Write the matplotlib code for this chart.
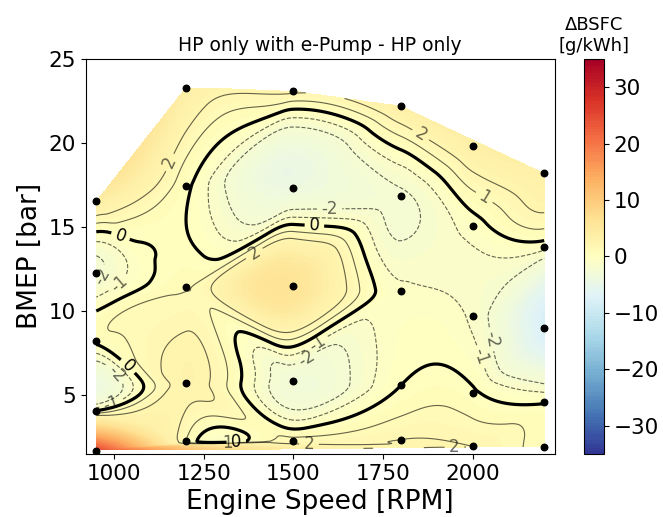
import numpy as np
import matplotlib.pyplot as plt
import matplotlib.tri as mtri

# measured operating points (engine speed, BMEP) and delta BSFC
speed = np.array([950] * 5 + [1200] * 5 + [1500] * 5 + [1800] * 5 + [2000] * 5 + [2200] * 5, dtype=float)
bmep = np.array([1.72, 4.09, 8.25, 12.25, 16.55,
                 2.27, 5.74, 11.42, 17.45, 23.3,
                 2.27, 5.83, 11.5, 17.3, 23.1,
                 2.37, 5.59, 11.22, 16.88, 22.2,
                 1.97, 5.14, 9.73, 15.08, 19.83,
                 1.93, 4.59, 9.0, 13.85, 18.21])
dbsfc = np.array([25.0, 0.0, 0.3, -2.3, 4.0,
                  1.0, 2.5, 0.9, 0.3, 4.0,
                  1.5, -3.0, 6.0, -4.0, 2.3,
                  2.0, 0.0, -0.8, -2.2, 3.5,
                  2.0, 0.2, -1.2, -0.5, 3.5,
                  0.5, -0.1, -8.0, -0.6, 3.5])

tri = mtri.Triangulation(speed, bmep)

# vertex gradients by global curvature minimisation (Nielson), raw units
nbrs = [[] for _ in speed]
for i, j in tri.edges:
    nbrs[i].append(j)
    nbrs[j].append(i)
gx = np.zeros(len(speed))
gy = np.zeros(len(speed))
for it in range(400):
    err = 0.0
    for i in range(len(speed)):
        q0 = q1 = q3 = s0 = s1 = 0.0
        for j in nbrs[i]:
            ex = speed[j] - speed[i]
            ey = bmep[j] - bmep[i]
            L3 = np.hypot(ex, ey) ** 3
            df2 = -ex * gx[j] - ey * gy[j]
            t = 6 * (dbsfc[i] - dbsfc[j]) - 2 * df2
            q0 += 4 * ex * ex / L3
            q1 += 4 * ex * ey / L3
            q3 += 4 * ey * ey / L3
            s0 += t * ex / L3
            s1 += t * ey / L3
        det = q0 * q3 - q1 * q1
        r0 = (q3 * s0 - q1 * s1) / det
        r1 = (-q1 * s0 + q0 * s1) / det
        change = max(abs(gx[i] + r0), abs(gy[i] + r1)) / max(1.0, abs(r0), abs(r1))
        gx[i], gy[i] = -r0, -r1
        err = max(err, change)
    if err < 1e-6:
        break

interp = mtri.CubicTriInterpolator(tri, dbsfc, kind='user', dz=(gx, gy))
xi = np.linspace(speed.min(), speed.max(), 500)
yi = np.linspace(bmep.min(), bmep.max(), 500)
X, Y = np.meshgrid(xi, yi)
Z = np.ma.clip(interp(X, Y), -34.9, 34.9)

fig = plt.figure(figsize=(6.63, 5.17), dpi=100)
ax = fig.add_axes([0.129, 0.122, 0.708, 0.764])
cax = fig.add_axes([0.881, 0.122, 0.030, 0.764])

cf = ax.contourf(X, Y, Z, levels=np.linspace(-35, 35, 141), cmap='RdYlBu_r')
cs = ax.contour(X, Y, Z, levels=[-2, -1, 1, 2], colors='k', linewidths=0.8, alpha=0.6)
cs0 = ax.contour(X, Y, Z, levels=[0], colors='k', linewidths=2.3)
ax.clabel(cs, fmt='%d', fontsize=12)
ax.clabel(cs0, fmt='%d', fontsize=12)
ax.scatter(speed, bmep, c='k', s=22, zorder=5)

ax.set_xlim(920, 2230)
ax.set_ylim(1.52, 25)
ax.set_xticks([1000, 1250, 1500, 1750, 2000])
ax.set_yticks([5, 10, 15, 20, 25])
ax.tick_params(labelsize=15.5)
ax.set_xlabel('Engine Speed [RPM]', fontsize=19)
ax.set_ylabel('BMEP [bar]', fontsize=19)
ax.set_title('HP only with e-Pump - HP only', fontsize=13.5)

cb = fig.colorbar(cf, cax=cax, ticks=[-30, -20, -10, 0, 10, 20, 30])
cb.ax.tick_params(labelsize=15.5)
cax.set_title('ΔBSFC\n[g/kWh]', fontsize=13)

fig.savefig('out.png', dpi=100)
